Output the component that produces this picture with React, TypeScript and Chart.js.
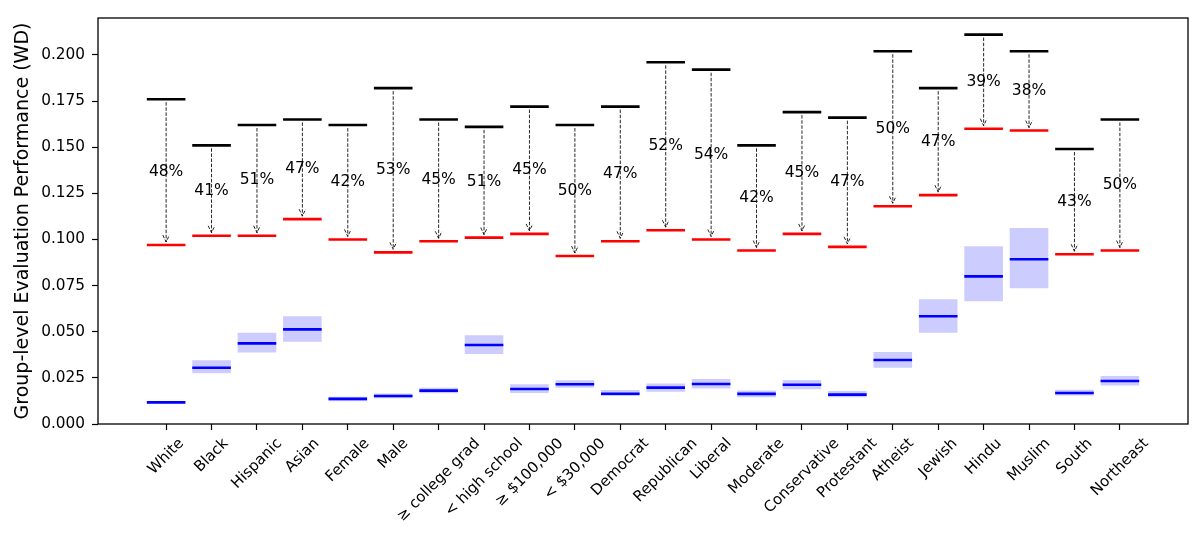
import React, { useEffect, useRef } from 'react';
import { Chart, registerables } from 'chart.js';

Chart.register(...registerables);

const categories = [
  'White', 'Black', 'Hispanic', 'Asian', 'Female', 'Male', '≥ college grad', '< high school',
  '≥ $100,000', '< $30,000', 'Democrat', 'Republican', 'Liberal', 'Moderate', 'Conservative',
  'Protestant', 'Atheist', 'Jewish', 'Hindu', 'Muslim', 'South', 'Northeast',
];

// black: before, red: after, blue: group-level with band
const beforeWD = [0.176, 0.151, 0.162, 0.165, 0.162, 0.182, 0.165, 0.161, 0.172, 0.162, 0.172, 0.196, 0.192, 0.151, 0.169, 0.166, 0.202, 0.182, 0.211, 0.202, 0.149, 0.165];
const afterWD = [0.097, 0.102, 0.102, 0.111, 0.100, 0.093, 0.099, 0.101, 0.103, 0.091, 0.099, 0.105, 0.100, 0.094, 0.103, 0.096, 0.118, 0.124, 0.160, 0.159, 0.092, 0.094];
const groupWD = [0.0117, 0.0305, 0.0437, 0.0513, 0.0136, 0.0152, 0.0181, 0.0428, 0.0190, 0.0215, 0.0164, 0.0197, 0.0217, 0.0163, 0.0213, 0.0159, 0.0347, 0.0584, 0.0800, 0.0893, 0.0168, 0.0233];
const groupLo = [0.0112, 0.0275, 0.0387, 0.0446, 0.0123, 0.0140, 0.0166, 0.0379, 0.0168, 0.0197, 0.0152, 0.0175, 0.0193, 0.0145, 0.0188, 0.0145, 0.0305, 0.0495, 0.0665, 0.0735, 0.0155, 0.0208];
const groupHi = [0.0122, 0.0345, 0.0495, 0.0584, 0.0148, 0.0165, 0.0197, 0.0481, 0.0215, 0.0237, 0.0184, 0.0220, 0.0244, 0.0181, 0.0238, 0.0179, 0.0390, 0.0676, 0.0963, 0.1062, 0.0186, 0.0260];
const reductionPct = [48, 41, 51, 47, 42, 53, 45, 51, 45, 50, 47, 52, 54, 42, 45, 47, 50, 47, 39, 38, 43, 50];

const yTickValues = [0, 0.025, 0.05, 0.075, 0.1, 0.125, 0.15, 0.175, 0.2];
const yTickLabels = ['0.000', '0.025', '0.050', '0.075', '0.100', '0.125', '0.150', '0.175', '0.200'];
const yTitle = 'Group-level Evaluation Performance (WD)';

const HALF = 0.425;
const FONT = '"DejaVu Sans", Verdana, sans-serif';

function segments(vals: number[]) {
  const out: any[] = [];
  vals.forEach((v, i) => {
    out.push({ x: i - HALF, y: v }, { x: i + HALF, y: v }, { x: i, y: null });
  });
  return out;
}

const annotPlugin = {
  id: 'annot',
  afterDatasetsDraw(chart: any) {
    const { ctx, scales } = chart;
    const xs = scales.x;
    const ys = scales.y;
    ctx.save();
    ctx.strokeStyle = 'rgba(0,0,0,0.85)';
    ctx.lineWidth = 1;
    ctx.setLineDash([3.5, 1.6]);
    categories.forEach((_, i) => {
      const px = xs.getPixelForValue(i);
      const y0 = ys.getPixelForValue(beforeWD[i]) + 3;
      const y1 = ys.getPixelForValue(afterWD[i]) - 3;
      ctx.beginPath();
      ctx.moveTo(px, y0);
      ctx.lineTo(px, y1);
      ctx.stroke();
      ctx.beginPath();
      ctx.moveTo(px - 3.3, y1 - 7);
      ctx.lineTo(px, y1);
      ctx.lineTo(px + 3.3, y1 - 7);
      ctx.stroke();
    });
    ctx.setLineDash([]);
    ctx.font = `15.5px ${FONT}`;
    ctx.fillStyle = '#000';
    ctx.textAlign = 'center';
    ctx.textBaseline = 'middle';
    categories.forEach((_, i) => {
      const px = xs.getPixelForValue(i);
      const py = ys.getPixelForValue((beforeWD[i] + afterWD[i]) / 2);
      ctx.fillText(`${reductionPct[i]}%`, px, py);
    });
    ctx.restore();
  },
  afterDraw(chart: any) {
    const { ctx, chartArea, scales } = chart;
    const xs = scales.x;
    ctx.save();
    ctx.strokeStyle = '#000';
    ctx.lineWidth = 1.3;
    ctx.strokeRect(chartArea.left, chartArea.top, chartArea.right - chartArea.left, chartArea.bottom - chartArea.top);
    const fs = 15;
    ctx.font = `${fs}px ${FONT}`;
    ctx.fillStyle = '#000';
    ctx.textAlign = 'center';
    ctx.textBaseline = 'middle';
    const top = chartArea.bottom + 11;
    const H = fs * 1.16;
    categories.forEach((lab, i) => {
      const px = xs.getPixelForValue(i);
      const L = ctx.measureText(lab).width;
      const half = ((L + H) * Math.SQRT1_2) / 2;
      ctx.save();
      ctx.translate(px, top + half);
      ctx.rotate(-Math.PI / 4);
      ctx.fillText(lab, 0, 0);
      ctx.restore();
    });
    ctx.restore();
  },
};

export default function App() {
  const ref = useRef<HTMLCanvasElement | null>(null);
  useEffect(() => {
    document.body.style.margin = '0';
    if (!ref.current) return;
    const lineDs = (label: string, vals: number[], color: string) =>
      ({
        type: 'line',
        label,
        data: segments(vals),
        borderColor: color,
        borderWidth: 2.6,
        pointRadius: 0,
        spanGaps: false,
        borderCapStyle: 'butt',
        order: 0,
      } as any);
    const chart = new Chart(ref.current, {
      type: 'line',
      data: {
        datasets: [
          lineDs('before', beforeWD, '#000'),
          lineDs('after', afterWD, '#f00'),
          lineDs('group', groupWD, '#00f'),
          {
            type: 'bar',
            label: 'band',
            data: categories.map((_, i) => ({ x: i, y: [groupLo[i], groupHi[i]] })),
            backgroundColor: 'rgba(0,0,255,0.2)',
            borderWidth: 0,
            categoryPercentage: 1,
            barPercentage: 0.85,
            order: 5,
          } as any,
        ],
      },
      options: {
        animation: false,
        responsive: false,
        maintainAspectRatio: false,
        layout: { padding: { top: 18, right: 12, bottom: 0, left: 0 } },
        plugins: { legend: { display: false }, tooltip: { enabled: false } },
        scales: {
          x: {
            type: 'linear',
            min: -1.5,
            max: 22.5,
            offset: false,
            afterBuildTicks: (s: any) => {
              s.ticks = categories.map((_, i) => ({ value: i }));
            },
            afterFit: (s: any) => {
              s.height = 110;
            },
            ticks: { display: false },
            grid: { display: true, offset: false, drawOnChartArea: false, drawTicks: true, tickLength: 6, tickColor: '#000', tickWidth: 1.2 },
            border: { display: false },
          },
          y: {
            type: 'linear',
            min: 0,
            max: 0.22,
            afterBuildTicks: (s: any) => {
              s.ticks = yTickValues.map((v) => ({ value: v }));
            },
            afterFit: (s: any) => {
              s.width = 98;
            },
            ticks: {
              color: '#000',
              padding: 7,
              font: { family: FONT, size: 15.3 },
              callback: (v: any) => {
                const idx = yTickValues.findIndex((t) => Math.abs(t - Number(v)) < 1e-9);
                return idx >= 0 ? yTickLabels[idx] : '';
              },
            },
            grid: { display: true, offset: false, drawOnChartArea: false, drawTicks: true, tickLength: 6, tickColor: '#000', tickWidth: 1.2 },
            border: { display: false },
            title: {
              display: true,
              text: yTitle,
              color: '#000',
              font: { family: FONT, size: 19 },
              padding: { top: 11.6, bottom: 0 },
            },
          },
        },
      },
      plugins: [annotPlugin],
    });
    return () => chart.destroy();
  }, []);
  return (
    <div style={{ width: 1200, height: 534 }}>
      <canvas ref={ref} width={1200} height={534} style={{ display: 'block' }} />
    </div>
  );
}
